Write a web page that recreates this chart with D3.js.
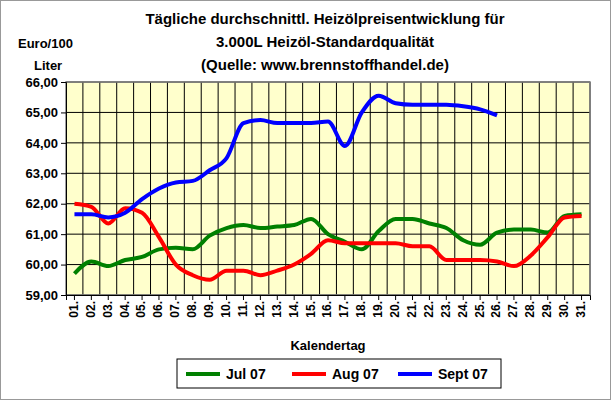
<!DOCTYPE html><html><head><meta charset="utf-8"><script src="https://cdn.jsdelivr.net/npm/d3@7"></script>
<style>body{margin:0;background:#fff}text{font-family:"Liberation Sans",Arial,sans-serif;font-weight:bold}</style></head><body>
<svg id="c" width="611" height="400"></svg>
<script>
const days=d3.range(1,32).map(d=>String(d).padStart(2,"0")+".");
const jul=[59.7,60.1,59.95,60.15,60.25,60.5,60.55,60.5,60.95,61.2,61.3,61.2,61.25,61.3,61.5,61.0,60.75,60.5,61.1,61.5,61.5,61.35,61.2,60.8,60.65,61.05,61.15,61.15,61.05,61.6,61.65];
const aug=[62.0,61.9,61.35,61.85,61.7,60.9,60.0,59.65,59.5,59.8,59.8,59.65,59.8,60.0,60.35,60.8,60.7,60.7,60.7,60.7,60.6,60.6,60.15,60.15,60.15,60.1,59.95,60.3,60.9,61.55,61.6];
const sep=[61.65,61.65,61.55,61.7,62.15,62.5,62.7,62.75,63.1,63.5,64.65,64.75,64.65,64.65,64.65,64.7,63.9,65.0,65.55,65.3,65.25,65.25,65.25,65.2,65.1,64.9];
const yTicks=[59,60,61,62,63,64,65,66];
const series=[{name:"Jul 07",v:jul,c:"#008000"},{name:"Aug 07",v:aug,c:"#ff0000"},{name:"Sept 07",v:sep,c:"#0000ff"}];
const svg=d3.select("#c");
svg.append("rect").attr("x",0.5).attr("y",0.5).attr("width",610).attr("height",399).attr("fill","#fff").attr("stroke","#999");
const L=66,R=590,T=82,B=295;
const x=d3.scaleBand().domain(days).range([L,R]);
const y=d3.scaleLinear().domain([59,66]).range([B,T]);
svg.append("rect").attr("x",L).attr("y",T).attr("width",R-L).attr("height",B-T).attr("fill","#ffffcc");
const g=svg.append("g");
days.forEach((d,i)=>g.append("line").attr("x1",x(d)+x.bandwidth()).attr("x2",x(d)+x.bandwidth()).attr("y1",T).attr("y2",B).attr("stroke","#000"));
yTicks.forEach(t=>g.append("line").attr("x1",L).attr("x2",R).attr("y1",y(t)).attr("y2",y(t)).attr("stroke","#000"));
svg.append("rect").attr("x",L).attr("y",T).attr("width",R-L).attr("height",B-T).attr("fill","none").attr("stroke","#808080").attr("stroke-width",1.5);
svg.append("g").attr("transform",`translate(${L},0)`).call(d3.axisLeft(y).tickValues(yTicks).tickFormat(d=>d3.format(".2f")(d).replace(".",",")).tickSize(5))
 .call(a=>{a.select(".domain").attr("stroke","#000");a.selectAll("text").attr("font-size",13).attr("fill","#000");});
const xa=svg.append("g").attr("transform",`translate(0,${B})`).call(d3.axisBottom(x).tickSize(5));
xa.select(".domain").attr("stroke","#000");
xa.selectAll("text").attr("font-size",12).attr("fill","#000").attr("transform","rotate(-90)").attr("text-anchor","end").attr("dx","-0.5em").attr("dy","-0.3em").attr("y",7);
const line=d3.line().x((d,i)=>x(days[i])+x.bandwidth()/2).y(d=>y(d)).curve(d3.curveMonotoneX);
series.forEach(s=>svg.append("path").attr("d",line(s.v)).attr("fill","none").attr("stroke",s.c).attr("stroke-width",4).attr("stroke-linejoin","round"));
const tt=["Tägliche durchschnittl. Heizölpreisentwicklung für","3.000L Heizöl-Standardqualität","(Quelle: www.brennstoffhandel.de)"];
tt.forEach((t,i)=>svg.append("text").attr("x",325).attr("y",24+i*23).attr("text-anchor","middle").attr("font-size",15).text(t));
svg.append("text").attr("x",18).attr("y",48).attr("font-size",13).text("Euro/100");
svg.append("text").attr("x",34).attr("y",70).attr("font-size",13).text("Liter");
svg.append("text").attr("x",328).attr("y",350).attr("text-anchor","middle").attr("font-size",13).text("Kalendertag");
svg.append("rect").attr("x",177).attr("y",359).attr("width",324).attr("height",29).attr("fill","#fff").attr("stroke","#000");
series.forEach((s,i)=>{const lx=186+i*106;
 svg.append("line").attr("x1",lx).attr("x2",lx+34).attr("y1",374).attr("y2",374).attr("stroke",s.c).attr("stroke-width",4);
 svg.append("text").attr("x",lx+40).attr("y",379).attr("font-size",14).text(s.name);});
</script></body></html>
